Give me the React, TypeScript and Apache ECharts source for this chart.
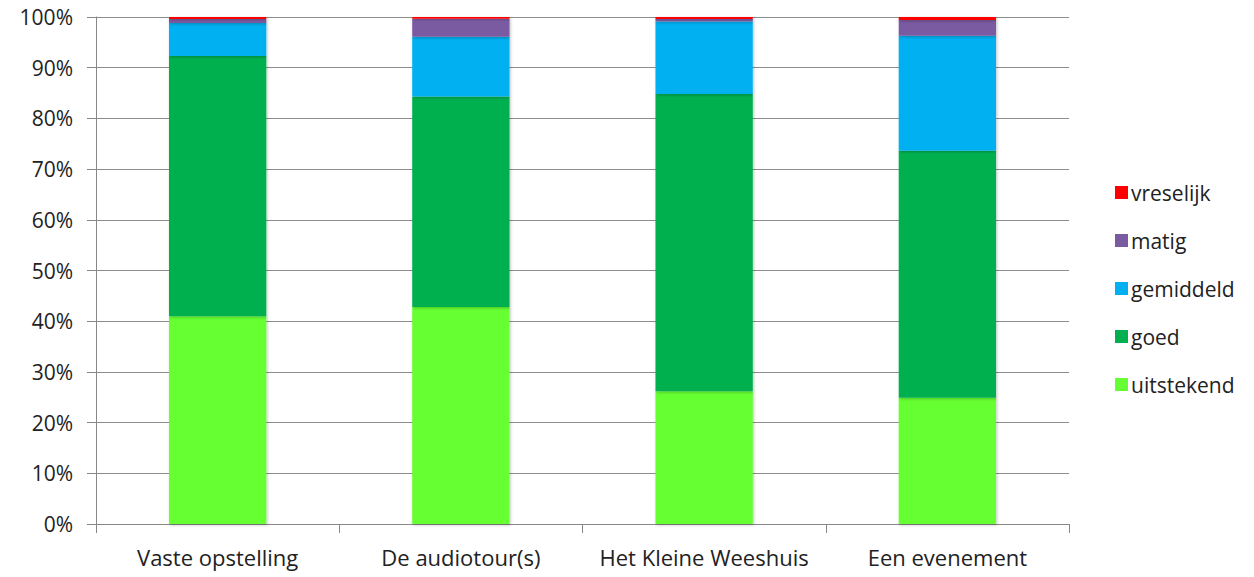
import React, { useEffect, useRef } from "react";
import * as echarts from "echarts";

const categories = ["Vaste opstelling", "De audiotour(s)", "Het Kleine Weeshuis", "Een evenement"];
const uitstekend = [41.0, 42.8, 26.2, 24.9];
const goed = [51.3, 41.5, 58.6, 48.7];
const gemiddeld = [6.5, 11.8, 14.3, 22.7];
const matig = [0.8, 3.55, 0.5, 3.1];
const vreselijk = [0.4, 0.35, 0.4, 0.6];
const yTicks = [0, 10, 20, 30, 40, 50, 60, 70, 80, 90, 100];

const seriesDefs = [
  { name: "uitstekend", data: uitstekend, color: "#66FF33" },
  { name: "goed", data: goed, color: "#00B050" },
  { name: "gemiddeld", data: gemiddeld, color: "#00B0F0" },
  { name: "matig", data: matig, color: "#7A5AA0" },
  { name: "vreselijk", data: vreselijk, color: "#FF0000" },
];

const FONT = "'Open Sans', Lato, sans-serif";

export default function App() {
  const ref = useRef<HTMLDivElement>(null);
  useEffect(() => {
    if (!ref.current) return;
    const chart = echarts.init(ref.current, null, { renderer: "svg" });
    chart.setOption({
      animation: false,
      backgroundColor: "#ffffff",
      grid: { left: 96, right: 185, top: 17, bottom: 53, containLabel: false },
      legend: {
        orient: "vertical",
        left: 1110,
        top: 177,
        itemWidth: 13,
        itemHeight: 13,
        itemGap: 27,
        icon: "rect",
        data: ["vreselijk", "matig", "gemiddeld", "goed", "uitstekend"],
        textStyle: { fontFamily: FONT, fontSize: 21, color: "#222", padding: [0, 0, 0, -2] },
      },
      xAxis: {
        type: "category",
        data: categories,
        axisLine: { lineStyle: { color: "#888", width: 1 } },
        axisTick: { show: true, alignWithLabel: false, length: 9, lineStyle: { color: "#888" } },
        axisLabel: { fontFamily: FONT, fontSize: 22, color: "#222", margin: 22, interval: 0 },
      },
      yAxis: {
        type: "value",
        min: yTicks[0],
        max: yTicks[yTicks.length - 1],
        interval: 10,
        axisLine: { show: true, lineStyle: { color: "#888", width: 1 } },
        axisTick: { show: true, length: 9, lineStyle: { color: "#888" } },
        splitLine: { show: true, lineStyle: { color: "#8c8c8c", width: 1 } },
        axisLabel: { fontFamily: FONT, fontSize: 21, color: "#222", margin: 23, formatter: "{value}%" },
      },
      series: seriesDefs.map((s) => ({
        name: s.name,
        type: "bar",
        stack: "total",
        data: s.data,
        barWidth: "40%",
        itemStyle: {
          color: s.color,
          shadowColor: "rgba(0,0,0,0.25)",
          shadowBlur: 3,
          shadowOffsetX: 1,
          shadowOffsetY: 1,
        },
      })),
    });
    return () => chart.dispose();
  }, []);
  return (
    <div
      ref={ref}
      style={{ position: "fixed", left: 0, top: 0, width: 1254, height: 577, background: "#fff" }}
    />
  );
}
